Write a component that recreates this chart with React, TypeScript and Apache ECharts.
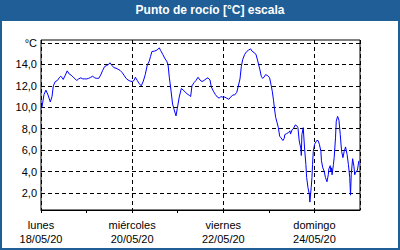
import React, { useEffect, useRef } from "react";
import * as echarts from "echarts";

const titleText = "Punto de rocío [°C] escala";
const labelHours = [0, 48, 96, 144];
const xTickLabels = ["lunes\n18/05/20", "miércoles\n20/05/20", "viernes\n22/05/20", "domingo\n24/05/20"];
const yUnitLabel = "°C";

const hours = [
  0, 0.5, 1.6, 2.6, 3.7, 4.9, 5.8, 6.5, 7.5, 8.6, 9.6, 10.4, 11, 11.7, 12.8, 13.8, 14.9, 15.9, 17, 18,
  18.8, 19.8, 21, 22, 23, 24.1, 25.1, 26.2, 27.2, 28.3, 29.3, 30.4, 31.4, 32.5, 33.5, 34.6, 35.6, 36.3, 37.4, 38.4,
  39.5, 40.6, 41.6, 42.7, 43.7, 44.8, 45.8, 46.9, 48, 49, 49.7, 50.7, 51.8, 52.8, 53.9, 54.9, 56, 57, 57.7, 58.4,
  59.9, 61.2, 62.3, 63, 64.1, 65.1, 66.2, 66.9, 67.6, 68.3, 69.3, 70, 71.1, 71.8, 72.8, 73.9, 75, 76, 77, 78.2,
  78.8, 79.5, 80.6, 81.6, 82.7, 83.7, 84.8, 85.8, 86.9, 87.9, 89, 89.7, 90.8, 91.8, 92.9, 93.9, 94.7, 95.7, 96.8, 97.8,
  98.9, 99.9, 101, 102, 103.1, 103.8, 104.8, 105.5, 106.2, 107.3, 108.3, 109.4, 110.4, 111.1, 112.2, 113.2, 113.9, 114.6, 115.3, 116,
  116.7, 117.4, 118.3, 119.4, 120.4, 121.1, 121.8, 122.5, 122.9, 123.6, 124.3, 125, 125.7, 126.4, 127.4, 128.1, 128.4, 129.4, 130.4, 131.1,
  131.4, 132.2, 132.9, 133.9, 134.6, 135.3, 136, 136.8, 137.1, 137.4, 138.1, 138.8, 139.5, 139.9, 140.6, 141.3, 141.6, 142.3, 142.7, 143,
  143.4, 144.1, 145.2, 145.9, 146.6, 147.4, 147.7, 148.4, 149.1, 149.8, 150.6, 151.3, 151.6, 152.3, 152.7, 153, 153.3, 154, 154.4, 155.1,
  155.5, 156.2, 156.9, 157.6, 158.3, 159, 159.7, 160.4, 161.2, 161.9, 162.6, 163, 163.4, 164.1, 164.8, 165.2, 165.9, 166.6, 167.4, 167.7,
];

const dewPoint = [
  9.9, 10.0, 11.2, 11.6, 11.15, 10.5, 11.0, 12.0, 12.4, 12.5, 12.75, 12.9, 12.8, 12.6, 13.0, 13.4, 13.1, 13.0, 12.8, 12.65,
  12.5, 12.65, 12.75, 12.65, 12.65, 12.65, 12.7, 12.8, 12.9, 12.75, 12.7, 12.7, 13.0, 13.45, 13.8, 13.9, 14.0, 14.15, 13.9, 13.7,
  13.65, 13.55, 13.45, 13.25, 13.0, 12.7, 12.55, 12.45, 12.4, 12.5, 12.8, 12.5, 12.2, 12.0, 12.45, 13.05, 13.95, 14.3, 14.75, 15.2,
  15.25, 15.35, 15.55, 15.3, 14.95, 14.6, 14.3, 14.0, 12.75, 11.8, 10.3, 9.85, 9.2, 9.9, 10.95, 11.75, 11.6, 11.4, 11.25, 11.1,
  11.0, 12.0, 12.3, 12.5, 12.8, 12.55, 12.4, 12.5, 12.65, 12.75, 12.55, 11.9, 11.5, 11.2, 10.95, 10.85, 11.0, 10.95, 10.95, 10.85,
  10.75, 10.95, 11.15, 11.15, 11.4, 11.9, 12.65, 13.8, 14.45, 14.95, 15.2, 15.35, 15.45, 15.25, 15.1, 14.95, 14.5, 14.0, 13.5, 12.9,
  12.7, 12.8, 13.05, 12.95, 12.75, 12.15, 11.5, 10.6, 9.95, 9.05, 8.6, 8.1, 7.3, 7.15, 6.9, 7.1, 7.45, 7.55, 7.65, 7.8,
  7.5, 7.9, 8.0, 8.35, 8.3, 8.1, 6.85, 6.2, 5.5, 7.45, 8.1, 6.2, 4.65, 3.45, 2.5, 1.9, 1.15, 2.5, 3.45, 4.65,
  5.9, 6.55, 6.9, 6.9, 6.55, 5.9, 5.0, 4.35, 4.05, 3.45, 3.05, 3.7, 4.25, 4.55, 4.0, 4.35, 3.7, 4.65, 5.3, 7.15,
  8.7, 9.15, 8.8, 7.45, 5.9, 5.3, 5.9, 6.3, 5.6, 4.65, 3.45, 1.8, 3.75, 5.2, 4.5, 3.7, 4.0, 4.1, 5.0, 5.0,
];

const FONT = "Liberation Sans, Arial, sans-serif";
const BLUE = "#1f5e96";

export default function App() {
  const ref = useRef<HTMLDivElement>(null);
  useEffect(() => {
    if (!ref.current) return;
    const chart = echarts.init(ref.current, undefined, { renderer: "svg" });
    const pxPerUnit = 150 / 14;
    const dataMin = 2 - 17 / pxPerUnit;
    const dataMax = 16 + 3 / pxPerUnit;
    chart.setOption({
      animation: false,
      backgroundColor: "transparent",
      graphic: [
        {
          type: "text",
          x: 210,
          y: 10,
          style: {
            text: titleText,
            fill: "#ffffff",
            font: `bold 12px ${FONT}`,
            textAlign: "center",
            textVerticalAlign: "middle",
          },
        },
      ],
      grid: [
        { left: 41, right: 40, top: 40, bottom: 40, show: true, borderColor: "#000", borderWidth: 1, backgroundColor: "transparent" },
        { left: 41, right: 40, top: 43, bottom: 57, show: false },
      ],
      xAxis: [
        {
          type: "value",
          gridIndex: 0,
          min: 0,
          max: 168,
          interval: 24,
          position: "bottom",
          axisLine: { show: true, lineStyle: { color: "#000", width: 1 } },
          axisTick: { show: true, length: 3, inside: false, lineStyle: { color: "#000" } },
          splitLine: { show: false },
          axisLabel: {
            show: true,
            showMinLabel: true,
            showMaxLabel: false,
            margin: 8,
            color: "#000",
            fontSize: 11,
            lineHeight: 14,
            fontFamily: FONT,
            formatter: (v: number) => {
              const i = labelHours.indexOf(v);
              return i >= 0 ? xTickLabels[i] : "";
            },
          },
        },
        {
          type: "value",
          gridIndex: 0,
          min: 0,
          max: 168,
          interval: 48,
          position: "top",
          axisLine: { show: false },
          axisTick: { show: false },
          axisLabel: { show: false },
          splitLine: { show: true, lineStyle: { color: "#000", type: [4, 3], width: 1 } },
        },
        {
          type: "value",
          gridIndex: 1,
          min: 0,
          max: 168,
          show: false,
        },
      ],
      yAxis: [
        {
          type: "value",
          gridIndex: 0,
          min: dataMin,
          max: dataMax,
          axisLine: { show: false },
          axisTick: { show: false },
          axisLabel: { show: false },
          splitLine: { show: false },
        },
        {
          type: "value",
          gridIndex: 1,
          min: 2,
          max: 16,
          interval: 2,
          axisLine: { show: false },
          axisTick: { show: false },
          splitLine: { show: true, lineStyle: { color: "#000", type: [4, 3], width: 1 } },
          axisLabel: {
            margin: 4,
            color: "#000",
            fontSize: 11,
            fontFamily: FONT,
            formatter: (v: number) => (v === 16 ? yUnitLabel : v.toFixed(1).replace(".", ",")),
          },
        },
      ],
      series: [
        {
          type: "line",
          xAxisIndex: 0,
          yAxisIndex: 0,
          data: hours.map((h, i) => [h, dewPoint[i]]),
          showSymbol: false,
          symbol: "none",
          lineStyle: { color: "#0000ff", width: 1 },
          z: 5,
        },
      ],
    });
    return () => chart.dispose();
  }, []);

  return (
    <div style={{ position: "absolute", left: 0, top: 0, width: 400, height: 250, background: BLUE }}>
      <div style={{ position: "absolute", left: 2, top: 21, width: 396, height: 227, background: "#ffffff" }} />
      <div ref={ref} style={{ position: "absolute", left: 0, top: 0, width: 400, height: 250 }} />
    </div>
  );
}
